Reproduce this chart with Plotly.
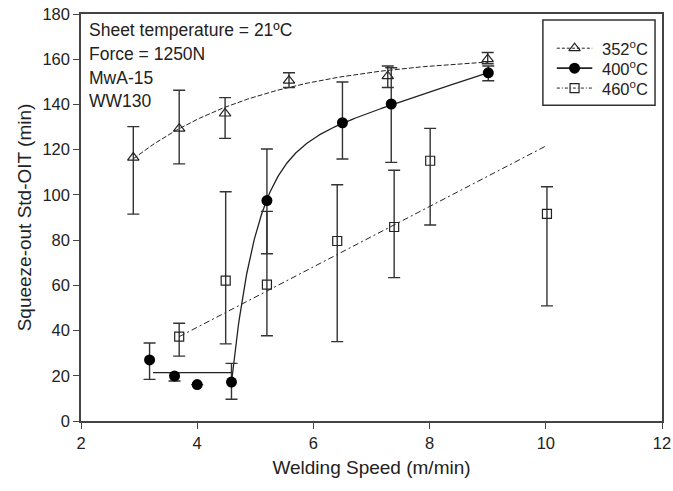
import numpy as np
import plotly.graph_objects as go

# Measured squeeze-out Std-OIT (min) versus welding speed (m/min)
speed_352 = [2.90, 3.69, 4.48, 5.58, 7.28, 9.00]
oit_352 = [116.5, 129.3, 136.0, 150.5, 152.5, 160.0]
err_up_352 = [13.7, 17.0, 7.0, 3.5, 4.5, 3.0]
err_dn_352 = [25.0, 15.6, 11.0, 3.0, 5.0, 2.0]

speed_400 = [3.18, 3.61, 4.00, 4.59, 5.20, 6.50, 7.34, 9.01]
oit_400 = [27.0, 19.9, 16.1, 17.2, 97.5, 131.9, 140.2, 154.0]
err_up_400 = [7.5, 1.5, 0.0, 8.3, 22.8, 18.0, 16.0, 3.0]
err_dn_400 = [8.6, 2.2, 0.0, 7.6, 23.5, 16.0, 25.8, 3.5]

speed_460 = [3.69, 4.49, 5.20, 6.41, 7.39, 8.01, 10.02]
oit_460 = [37.3, 62.1, 60.3, 79.6, 85.8, 115.1, 91.6]
err_up_460 = [5.9, 39.3, 32.4, 24.9, 25.1, 14.3, 12.0]
err_dn_460 = [8.6, 28.0, 22.6, 44.5, 22.4, 28.4, 40.7]

legend_names = ["352<sup>o</sup>C", "400<sup>o</sup>C", "460<sup>o</sup>C"]
notes = ["Sheet temperature = 21ºC", "Force = 1250N", "MwA-15", "WW130"]
note_y = [172.9, 162.3, 151.7, 141.5]
x_ticks = [2, 4, 6, 8, 10, 12]
y_ticks = list(range(0, 181, 20))

# Trend-line parameters
fit352 = dict(a=162.0, b=161.6, k=0.433, x0=2.90, x1=9.00)          # a - b*exp(-k x)
fit400_flat = dict(level=21.4, x0=3.24, x1=4.59)
fit400 = dict(a=77.5, m=8.5, c=99.5, k=2.35, x0=4.59, x1=9.00)     # a + m x - c exp(-k (x-x0))
fit460 = dict(slope=13.36, intercept=-12.0, x0=3.69, x1=10.0)

INK = "#222222"
FONT = "Liberation Sans, Arial, sans-serif"

fig = go.Figure()

# trend lines
xs = np.linspace(fit352["x0"], fit352["x1"], 200)
fig.add_trace(go.Scatter(x=xs, y=fit352["a"] - fit352["b"] * np.exp(-fit352["k"] * xs),
                         mode="lines", line=dict(color=INK, width=1, dash="5px,2px"),
                         hoverinfo="skip"))

fig.add_trace(go.Scatter(x=[fit400_flat["x0"], fit400_flat["x1"]],
                         y=[fit400_flat["level"]] * 2,
                         mode="lines", line=dict(color=INK, width=1.3),
                         hoverinfo="skip"))
xs = np.linspace(fit400["x0"], fit400["x1"], 300)
fig.add_trace(go.Scatter(x=xs, y=fit400["a"] + fit400["m"] * xs
                         - fit400["c"] * np.exp(-fit400["k"] * (xs - fit400["x0"])),
                         mode="lines", line=dict(color=INK, width=1.3),
                         hoverinfo="skip"))

xs = np.array([fit460["x0"], fit460["x1"]])
fig.add_trace(go.Scatter(x=xs, y=fit460["slope"] * xs + fit460["intercept"],
                         mode="lines", line=dict(color=INK, width=1, dash="6px,3px,2px,3px"),
                         hoverinfo="skip"))


def err(up, dn):
    return dict(type="data", symmetric=False, array=up, arrayminus=dn,
                color="#333333", thickness=1.4, width=6)


MARKERS = [
    dict(symbol="triangle-up-open", size=10, color=INK, line=dict(width=1.2, color=INK)),
    dict(symbol="circle", size=11, color="black"),
    dict(symbol="square-open", size=9, color=INK, line=dict(width=1.2, color=INK)),
]
LINES = [
    dict(color=INK, width=1, dash="3px,2px"),
    dict(color=INK, width=1.8),
    dict(color=INK, width=1, dash="3px,2px,1px,2px"),
]

# measured points with error bars
fig.add_trace(go.Scatter(x=speed_352, y=oit_352, mode="markers",
                         error_y=err(err_up_352, err_dn_352), marker=MARKERS[0]))
fig.add_trace(go.Scatter(x=speed_460, y=oit_460, mode="markers",
                         error_y=err(err_up_460, err_dn_460), marker=MARKERS[2]))
fig.add_trace(go.Scatter(x=speed_400, y=oit_400, mode="markers",
                         error_y=err(err_up_400, err_dn_400), marker=MARKERS[1]))

# legend box (paper coordinates)
box = dict(x0=0.795, x1=0.988, y0=0.776, y1=0.985)
rows = [0.916, 0.867, 0.818]
fig.add_shape(type="rect", xref="paper", yref="paper", line=dict(color="#333333", width=1.5),
              fillcolor="white", layer="below", **box)
for i, (name, ry) in enumerate(zip(legend_names, rows)):
    fig.add_shape(type="line", xref="paper", yref="paper", x0=0.819, x1=0.880, y0=ry, y1=ry,
                  line=LINES[i], layer="below")
    fig.add_annotation(x=0.893, y=ry, xref="paper", yref="paper", text=name, showarrow=False,
                       xanchor="left", yanchor="middle",
                       font=dict(size=16.5, color=INK, family=FONT))
# legend key markers, placed at the centre of each key line
key_x = 2 + 10 * 0.8495
for i, ry in enumerate(rows):
    fig.add_trace(go.Scatter(x=[key_x], y=[180 * ry], mode="markers", marker=MARKERS[i],
                             cliponaxis=False, hoverinfo="skip"))

# condition notes
for t, yv in zip(notes, note_y):
    fig.add_annotation(x=2.1, y=yv, xref="x", yref="y",
                       text=t, showarrow=False, xanchor="left", yanchor="middle",
                       font=dict(size=17.5, color=INK, family=FONT))

axis_common = dict(showgrid=False, zeroline=False, showline=True, linecolor="#444444",
                   linewidth=1.5, mirror=True, ticks="outside", ticklen=6,
                   tickwidth=1.3, tickcolor="#444444", automargin=False,
                   tickfont=dict(size=16.5, color=INK, family=FONT))

fig.update_xaxes(range=[2, 12], tickvals=x_ticks,
                 title=dict(text="Welding Speed (m/min)", font=dict(size=19, color=INK, family=FONT),
                            standoff=10),
                 **axis_common)
fig.update_yaxes(range=[0, 180], tickvals=y_ticks,
                 title=dict(text="Squeeze-out Std-OIT (min)", font=dict(size=19, color=INK, family=FONT),
                            standoff=6),
                 **axis_common)

fig.update_layout(
    width=673, height=491,
    margin=dict(l=81, r=11, t=14, b=70),
    paper_bgcolor="white", plot_bgcolor="white",
    font=dict(family=FONT, color=INK),
    showlegend=False,
)

fig.write_html("out.html")
